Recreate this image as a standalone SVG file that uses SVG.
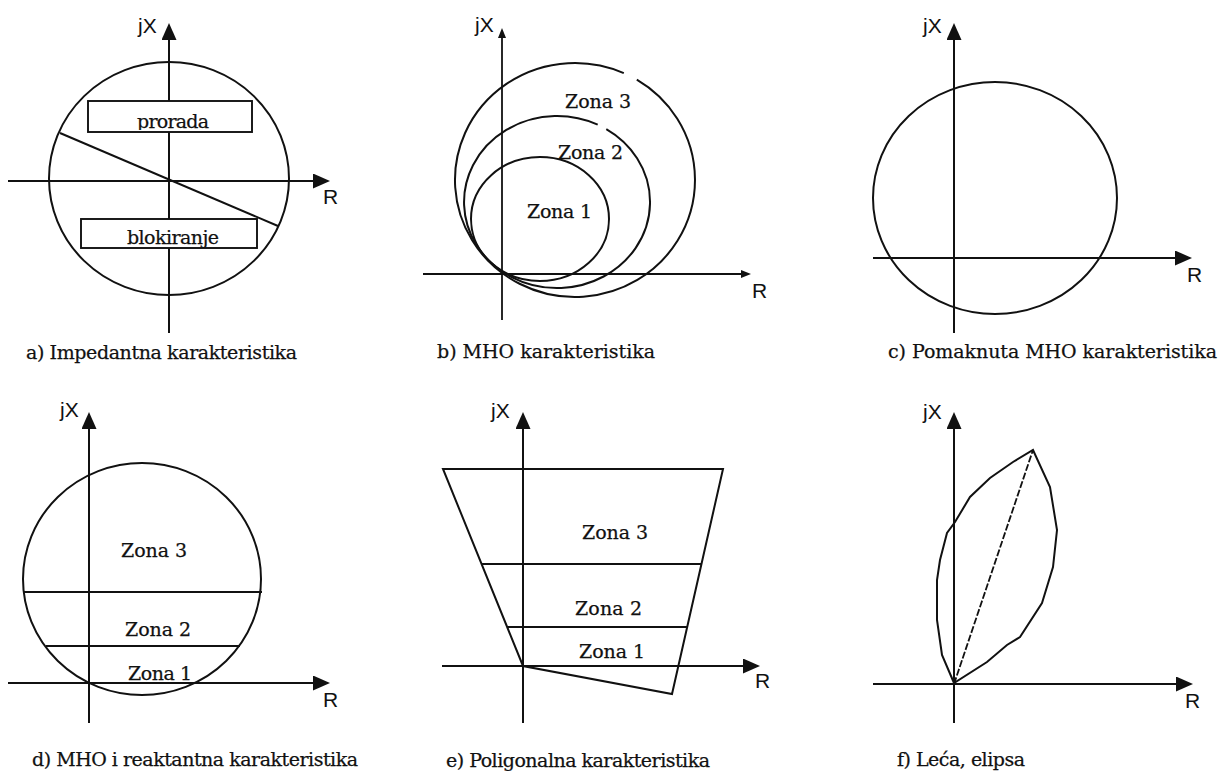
<svg xmlns="http://www.w3.org/2000/svg" width="1228" height="771" viewBox="0 0 1228 771">
<style>
.ln{fill:none;stroke:#111;stroke-width:2}
.ax{fill:none;stroke:#111;stroke-width:2;marker-end:url(#ah)}
.axs{fill:none;stroke:#111;stroke-width:1.8;marker-end:url(#ahs)}
.box{fill:#fff;stroke:#111;stroke-width:1.9}
.lab{font-family:"Liberation Sans",Arial,sans-serif;font-size:21px;fill:#111}
.t{font-family:"DejaVu Serif","Liberation Serif",serif;font-size:19px;fill:#111;stroke:#111;stroke-width:0.25}
.dash{fill:none;stroke:#111;stroke-width:1.8;stroke-dasharray:7 2}
</style>
<defs>
<marker id="ah" viewBox="0 0 17 15" refX="13" refY="7.5" markerWidth="17" markerHeight="15" markerUnits="userSpaceOnUse" orient="auto">
<path d="M0,0 L17,7.5 L0,15 z" fill="#111"/>
</marker>
<marker id="ahs" viewBox="0 0 10 8" refX="7" refY="4" markerWidth="10" markerHeight="8" markerUnits="userSpaceOnUse" orient="auto">
<path d="M0,0 L10,4 L0,8 z" fill="#111"/>
</marker>
<clipPath id="c1"><rect x="88" y="101" width="164" height="29"/></clipPath>
<clipPath id="c2"><rect x="81" y="219" width="176" height="29"/></clipPath>
</defs>
<rect width="1228" height="771" fill="#fff"/>

<g id="panel-a">
<ellipse class="ln" cx="169" cy="178.5" rx="120" ry="116.5"/>
<line class="ln" x1="60" y1="133" x2="278" y2="226"/>
<line class="ax" x1="169" y1="333" x2="169" y2="27"/>
<line class="ax" x1="8" y1="181" x2="326" y2="181"/>
<rect class="box" x="88" y="101" width="164" height="31"/>
<rect class="box" x="81" y="219" width="176" height="29"/>
<text class="t" x="137" y="128" textLength="72" clip-path="url(#c1)">prorada</text>
<text class="t" x="127" y="244" textLength="92" clip-path="url(#c2)">blokiranje</text>
<text class="lab" x="138" y="33">jX</text>
<text class="lab" x="323" y="204">R</text>
<text class="t" x="26" y="359" textLength="271">a) Impedantna karakteristika</text>
</g>

<g id="panel-b">
<ellipse class="ln" cx="540" cy="219" rx="69" ry="62"/>
<path class="ln" d="M597.7,124.7 A93,86 0 1 0 606.3,129.1"/>
<path class="ln" d="M623.8,73.1 A120,117 0 1 0 636.8,79.7"/>
<line class="axs" x1="502" y1="320" x2="502" y2="31"/>
<line class="axs" x1="423" y1="274" x2="748" y2="274"/>
<text class="lab" x="475" y="32">jX</text>
<text class="lab" x="752" y="298">R</text>
<text class="t" x="565" y="108" textLength="66">Zona 3</text>
<text class="t" x="558" y="159" textLength="65">Zona 2</text>
<text class="t" x="527" y="218" textLength="65">Zona 1</text>
<text class="t" x="437" y="358" textLength="218">b) MHO karakteristika</text>
</g>

<g id="panel-c">
<ellipse class="ln" cx="995" cy="198" rx="122" ry="116"/>
<line class="ax" x1="954" y1="333" x2="954" y2="27"/>
<line class="ax" x1="873" y1="258" x2="1188" y2="258"/>
<text class="lab" x="923" y="33">jX</text>
<text class="lab" x="1187" y="282">R</text>
<text class="t" x="888" y="358" textLength="329">c) Pomaknuta MHO karakteristika</text>
</g>

<g id="panel-d">
<ellipse class="ln" cx="142" cy="579" rx="119" ry="116"/>
<line class="ln" x1="23" y1="592" x2="262" y2="592"/>
<line class="ln" x1="46" y1="646" x2="240" y2="646"/>
<line class="ax" x1="89" y1="723" x2="89" y2="416"/>
<line class="ax" x1="8" y1="683" x2="326" y2="683"/>
<text class="lab" x="60" y="417">jX</text>
<text class="lab" x="323" y="707">R</text>
<text class="t" x="121" y="557" textLength="66">Zona 3</text>
<text class="t" x="125" y="636" textLength="66">Zona 2</text>
<text class="t" x="128" y="680" textLength="64">Zona 1</text>
<text class="t" x="32" y="766" textLength="326">d) MHO i reaktantna karakteristika</text>
</g>

<g id="panel-e">
<polygon class="ln" points="443,469 723,469 672,694 523,666"/>
<line class="ln" x1="482" y1="564" x2="701" y2="564"/>
<line class="ln" x1="507" y1="627" x2="687" y2="627"/>
<line class="ax" x1="523" y1="723" x2="523" y2="416"/>
<line class="ax" x1="442" y1="666" x2="756" y2="666"/>
<text class="lab" x="491" y="418">jX</text>
<text class="lab" x="755" y="688">R</text>
<text class="t" x="582" y="539" textLength="66">Zona 3</text>
<text class="t" x="575" y="615" textLength="67">Zona 2</text>
<text class="t" x="579" y="658" textLength="66">Zona 1</text>
<text class="t" x="446" y="767" textLength="264">e) Poligonalna karakteristika</text>
</g>

<g id="panel-f">
<polygon class="ln" points="954,683 942,655 937,620 937,580 940,560 947,533 955,522 970,497 990,478 1013,462 1033,450 1050,487 1057,530 1053,567 1042,603 1020,637 1007,645 987,662"/>
<line class="dash" x1="954" y1="684" x2="1033" y2="450"/>
<line class="ax" x1="954" y1="723" x2="954" y2="416"/>
<line class="ax" x1="873" y1="684" x2="1189" y2="684"/>
<text class="lab" x="923" y="419">jX</text>
<text class="lab" x="1185" y="708">R</text>
<text class="t" x="897" y="766" textLength="128">f) Leća, elipsa</text>
</g>
</svg>
